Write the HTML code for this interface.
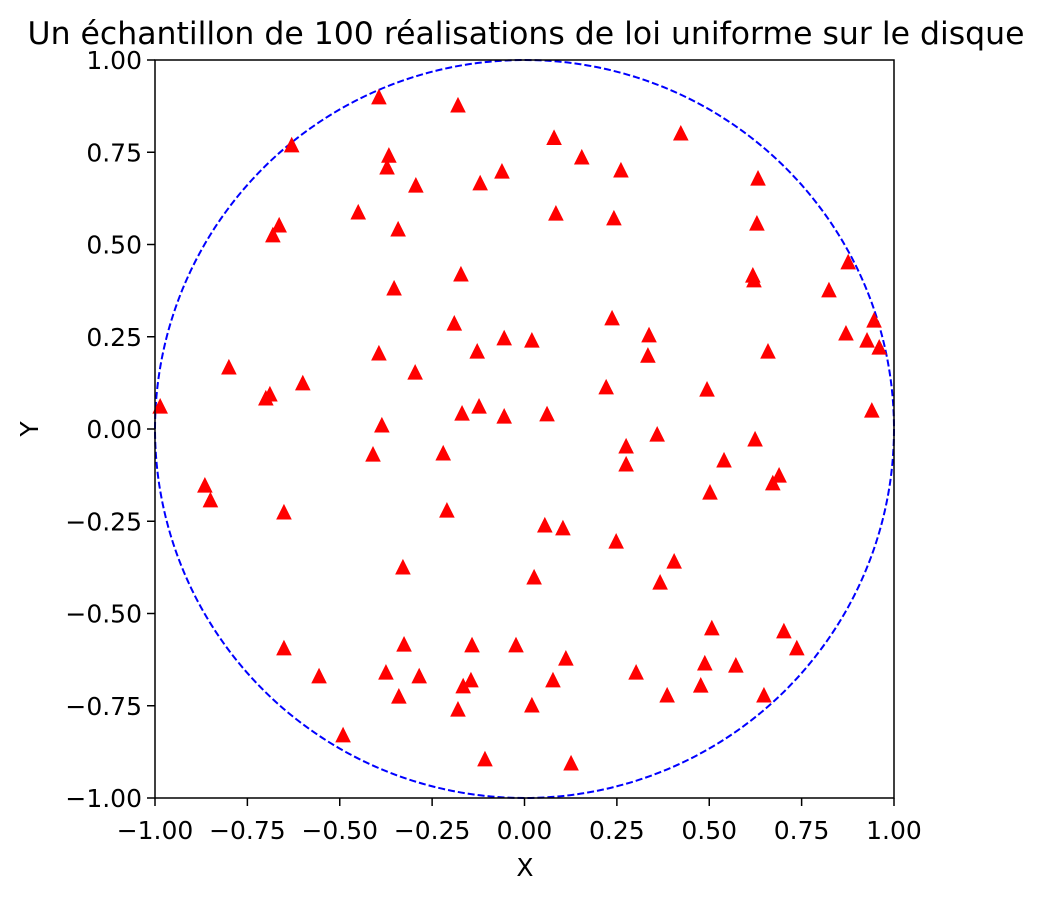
<!DOCTYPE html>
<html><head><meta charset="utf-8"><style>
body{margin:0;background:#fff;}
svg text{font-family:"DejaVu Sans","Liberation Sans",sans-serif;fill:#000;}
</style></head><body>
<svg id="chart" width="1051" height="900">
<text x="526" y="44" font-size="31.5" text-anchor="middle">Un échantillon de 100 réalisations de loi uniforme sur le disque</text>
<g id="plot"></g>
<text x="525" y="876" font-size="25" text-anchor="middle">X</text>
<text x="38" y="429" font-size="25" text-anchor="middle" transform="rotate(-90 38 429)">Y</text>
</svg>
<script>
const xs=[-0.986,-0.394,-0.18,-0.63,-0.367,-0.372,0.08,0.155,0.423,0.261,-0.061,-0.12,-0.294,0.632,-0.45,0.085,0.242,-0.664,-0.681,-0.342,0.629,-0.172,0.618,0.621,0.876,-0.353,0.824,-0.19,0.237,0.946,0.87,0.337,-0.055,0.02,0.927,0.96,-0.128,-0.394,0.334,0.659,-0.8,-0.6,-0.296,0.221,0.494,-0.689,-0.7,-0.123,-0.169,-0.055,0.061,0.94,-0.386,0.359,0.624,0.275,-0.41,-0.22,0.54,0.275,0.689,0.672,-0.865,-0.85,0.502,-0.651,-0.21,0.055,0.104,0.248,-0.329,0.405,0.367,0.026,0.507,0.702,0.737,-0.326,-0.142,-0.023,-0.651,0.112,0.488,0.572,-0.375,0.302,-0.556,-0.285,-0.145,0.077,-0.166,0.477,-0.34,0.386,0.648,-0.18,0.02,-0.491,-0.107,0.126];
const ys=[0.062,0.9,0.878,0.77,0.742,0.71,0.79,0.737,0.802,0.702,0.699,0.667,0.661,0.68,0.588,0.585,0.572,0.553,0.526,0.542,0.558,0.42,0.417,0.404,0.453,0.382,0.377,0.287,0.301,0.295,0.26,0.255,0.247,0.241,0.241,0.222,0.211,0.206,0.2,0.211,0.168,0.125,0.154,0.114,0.108,0.095,0.084,0.062,0.043,0.035,0.041,0.051,0.011,-0.014,-0.027,-0.046,-0.068,-0.065,-0.084,-0.095,-0.125,-0.146,-0.152,-0.192,-0.171,-0.225,-0.22,-0.26,-0.268,-0.304,-0.374,-0.358,-0.415,-0.401,-0.539,-0.547,-0.593,-0.583,-0.585,-0.585,-0.593,-0.621,-0.634,-0.64,-0.659,-0.659,-0.669,-0.669,-0.68,-0.68,-0.696,-0.694,-0.724,-0.721,-0.721,-0.759,-0.748,-0.829,-0.894,-0.905];
const ticks=[-1,-0.75,-0.5,-0.25,0,0.25,0.5,0.75,1];
const tickLabels=["\u22121.00","\u22120.75","\u22120.50","\u22120.25","0.00","0.25","0.50","0.75","1.00"];
const L=155,R=894,T=60,B=798;
const sx=v=>L+(v+1)/2*(R-L), sy=v=>B-(v+1)/2*(B-T);
const NS="http://www.w3.org/2000/svg";
const g=document.getElementById('plot');
function mk(t,a){const e=document.createElementNS(NS,t);for(const k in a)e.setAttribute(k,a[k]);g.appendChild(e);return e;}
const circ=mk('ellipse',{cx:sx(0),cy:sy(0),rx:sx(1)-sx(0),ry:sy(0)-sy(1),fill:'none',stroke:'#0000ff','stroke-width':2,'stroke-dasharray':'7,3'});


xs.forEach((x,i)=>{const cx=sx(x),cy=sy(ys[i]);
const p=mk('polygon',{points:`${cx},${cy-7} ${cx-7},${cy+7} ${cx+7},${cy+7}`,fill:'#ff0000',stroke:'#ff0000','stroke-width':1});

});
const fr=mk('rect',{x:L,y:T,width:R-L,height:B-T,fill:'none',stroke:'#000','stroke-width':1.5});


ticks.forEach((t,i)=>{
mk('line',{x1:sx(t),x2:sx(t),y1:B,y2:B+8,stroke:'#000','stroke-width':1.5});
const tx=mk('text',{x:sx(t),y:B+41,'font-size':25,'text-anchor':'middle'});tx.textContent=tickLabels[i];


mk('line',{x1:L-8,x2:L,y1:sy(t),y2:sy(t),stroke:'#000','stroke-width':1.5});
const ty=mk('text',{x:L-13,y:sy(t)+9,'font-size':25,'text-anchor':'end'});ty.textContent=tickLabels[i];


});
</script>
</body></html>
